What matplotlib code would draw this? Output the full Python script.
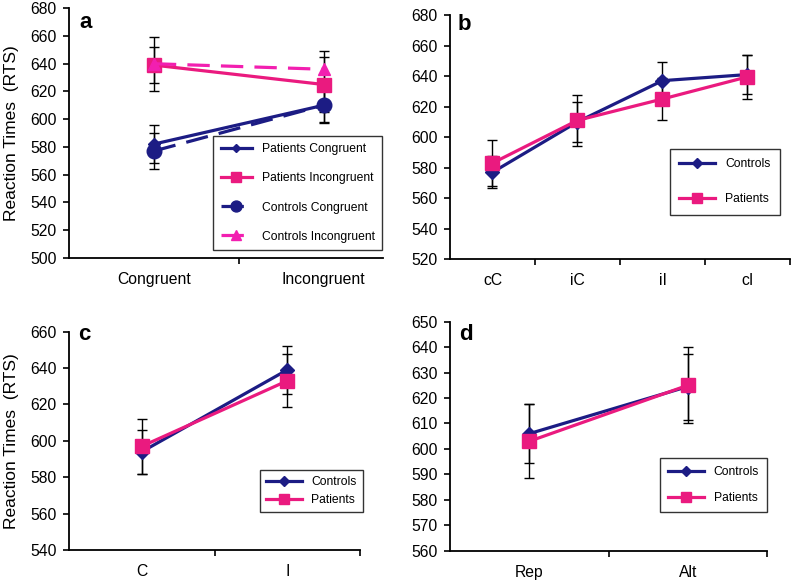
import matplotlib.pyplot as plt
from matplotlib.ticker import FixedLocator, NullFormatter, FixedFormatter

plt.rcParams['font.family'] = ['Liberation Sans', 'DejaVu Sans']

NAVY = '#1c1c84'
PINK = '#ea1a7f'
MAGENTA = '#f21fb0'

# panel a
a_cats = ['Congruent', 'Incongruent']
a_pat_con = [582, 610]
a_pat_con_err = [14, 12]
a_pat_inc = [639, 625]
a_pat_inc_err = [13, 20]
a_con_con = [577, 610]
a_con_con_err = [13, 13]
a_con_inc = [640, 636]
a_con_inc_err = [19.5, 13]

# panel b
b_cats = ['cC', 'iC', 'iI', 'cI']
b_controls = [577, 610, 637, 641]
b_controls_err = [10.5, 13, 12, 13]
b_patients = [583, 611, 625, 639.5]
b_patients_err = [15, 16.5, 13.5, 14.5]

# panel c
c_cats = ['C', 'I']
c_controls = [594, 639]
c_controls_err = [12, 13]
c_patients = [597, 633]
c_patients_err = [15, 14.5]

# panel d
d_cats = ['Rep', 'Alt']
d_controls = [606, 624.5]
d_controls_err = [11.5, 13]
d_patients = [603, 625]
d_patients_err = [14.5, 15]

W, H = 796, 581
fig = plt.figure(figsize=(W / 100, H / 100), dpi=100)


def px_axes(left, right, top, bottom):
    return fig.add_axes([left / W, 1 - bottom / H, (right - left) / W, (bottom - top) / H])


def series(ax, x, y, err, color, marker, ms, dashed=False, label=None):
    ax.errorbar(x, y, yerr=err, fmt='none', ecolor='black', elinewidth=1.0,
                capsize=3.5, capthick=1.0, zorder=2)
    line, = ax.plot(x, y, color=color, lw=2.3, marker=marker, ms=ms,
                    mec=color, mfc=color, label=label, zorder=3)
    if dashed:
        line.set_dashes((7, 3.5))
    return line


def style(ax, cats, ylim, ystep, xmax=None):
    n = len(cats)
    ax.set_xlim(-0.5, n - 0.5 if xmax is None else xmax)
    ax.set_ylim(*ylim)
    ax.set_yticks(range(ylim[0], ylim[1] + 1, ystep))
    ax.spines['top'].set_visible(False)
    ax.spines['right'].set_visible(False)
    for s in ('left', 'bottom'):
        ax.spines[s].set_linewidth(1.3)
    ax.xaxis.set_major_locator(FixedLocator([i + 0.5 for i in range(n)]))
    ax.xaxis.set_major_formatter(NullFormatter())
    ax.xaxis.set_minor_locator(FixedLocator(list(range(n))))
    ax.xaxis.set_minor_formatter(FixedFormatter(cats))
    ax.tick_params(axis='x', which='major', direction='out', length=4, width=1.2)
    ax.tick_params(axis='x', which='minor', length=0, pad=10, labelsize=11.3)
    ax.tick_params(axis='y', direction='out', length=4, width=1.2, pad=5, labelsize=11.3)


def legend(ax, anchor, spacing, hl=2.6, bp=0.8):
    leg = ax.legend(loc='lower right', bbox_to_anchor=anchor, fontsize=8.7,
                    frameon=True, fancybox=False, edgecolor='black',
                    labelspacing=spacing, handlelength=hl, borderpad=bp,
                    borderaxespad=0, markerscale=0.75)
    leg.get_frame().set_linewidth(1.0)


# a
ax = px_axes(69, 383, 8.3, 257.7)
xa = range(len(a_cats))
series(ax, xa, a_pat_con, a_pat_con_err, NAVY, 'D', 6, label='Patients Congruent')
series(ax, xa, a_pat_inc, a_pat_inc_err, PINK, 's', 10, label='Patients Incongruent')
series(ax, xa, a_con_con, a_con_con_err, NAVY, 'o', 10.5, dashed=True, label='Controls Congruent')
series(ax, xa, a_con_inc, a_con_inc_err, MAGENTA, '^', 9, dashed=True, label='Controls Incongruent')
style(ax, a_cats, (500, 680), 20, xmax=1.35)
legend(ax, (0.997, 0.031), 1.42, bp=0.6)

# b
ax = px_axes(450, 790, 15, 259.3)
xb = range(len(b_cats))
series(ax, xb, b_controls, b_controls_err, NAVY, 'D', 7, label='Controls')
series(ax, xb, b_patients, b_patients_err, PINK, 's', 10, label='Patients')
style(ax, b_cats, (520, 680), 20)
legend(ax, (0.971, 0.181), 1.9, hl=3.0)

# c
ax = px_axes(69, 360, 331.7, 550)
xc = range(len(c_cats))
series(ax, xc, c_controls, c_controls_err, NAVY, 'D', 7, label='Controls')
series(ax, xc, c_patients, c_patients_err, PINK, 's', 10, label='Patients')
style(ax, c_cats, (540, 660), 20)
legend(ax, (1.01, 0.174), 0.5, hl=3.0, bp=0.5)

# d
ax = px_axes(450, 767, 321.7, 550.7)
xd = range(len(d_cats))
series(ax, xd, d_controls, d_controls_err, NAVY, 'D', 7, label='Controls')
series(ax, xd, d_patients, d_patients_err, PINK, 's', 10, label='Patients')
style(ax, d_cats, (560, 650), 10)
legend(ax, (1.0, 0.169), 1.15, hl=3.0, bp=0.65)

# y labels and panel letters
for yc in (133, 441):
    fig.text(12 / W, 1 - yc / H, 'Reaction Times  (RTS)', rotation=90,
             ha='center', va='center', fontsize=12.5)
for letter, x, y in (('a', 79, 28), ('b', 458, 30.5), ('c', 78, 340), ('d', 459, 340.5)):
    fig.text(x / W, 1 - y / H, letter, ha='left', va='baseline',
             fontsize=16, fontweight='bold')

fig.savefig('out.png', dpi=100)
